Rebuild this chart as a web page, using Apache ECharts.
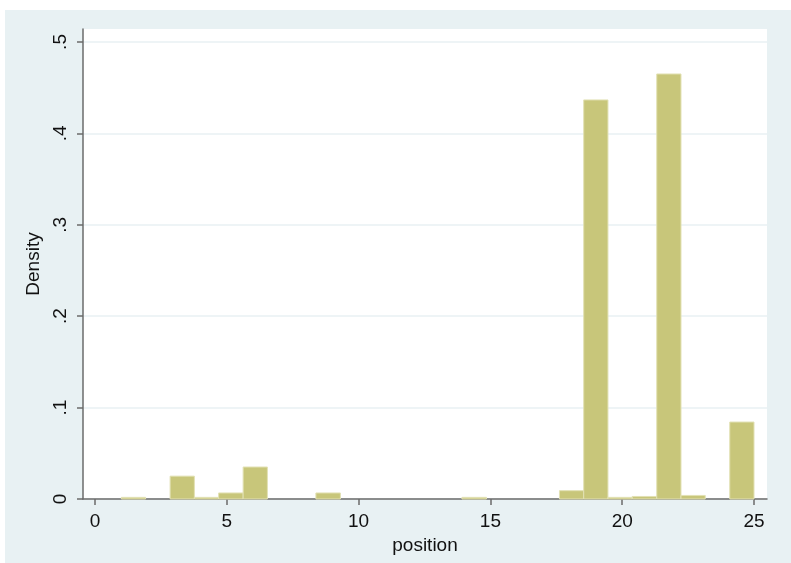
<!DOCTYPE html>
<html>
<head>
<meta charset="utf-8">
<script src="https://cdn.jsdelivr.net/npm/echarts@6/dist/echarts.min.js"></script>
<style>
html,body{margin:0;padding:0;background:#fff;}
#chart{width:791px;height:563px;}
</style>
</head>
<body>
<div id="chart"></div>
<script>
// Histogram bins (position)
const binLeft  = [1.00, 2.85, 3.77, 4.69, 5.62, 8.38, 13.92, 17.62, 18.54, 19.46, 20.38, 21.31, 22.23, 24.08];
const binRight = [1.92, 3.77, 4.69, 5.62, 6.54, 9.31, 14.85, 18.54, 19.46, 20.38, 21.31, 22.23, 23.15, 25.00];
const density  = [0.0018, 0.0250, 0.0018, 0.0066, 0.0350, 0.0066, 0.0018, 0.0091, 0.4366, 0.0018, 0.0028, 0.4650, 0.0039, 0.0842];
const xTicks = [0, 5, 10, 15, 20, 25];
const yTicks = [0, 0.1, 0.2, 0.3, 0.4, 0.5];
const yTickLabels = ['0', '.1', '.2', '.3', '.4', '.5'];

const data = binLeft.map((l, i) => [l, binRight[i], density[i]]);

const chart = echarts.init(document.getElementById('chart'));
const font = 'Liberation Sans, Arial, Helvetica, sans-serif';
chart.setOption({
  backgroundColor: '#ffffff',
  animation: false,
  graphic: [{
    type: 'rect', left: 5, top: 10, z: -10,
    shape: { width: 786, height: 553 },
    style: { fill: '#e8f1f3' }
  }],
  grid: {
    left: 83, top: 29, width: 684, height: 470,
    show: true, backgroundColor: '#ffffff', borderWidth: 0, z: 0
  },
  xAxis: {
    type: 'value', min: -0.455, max: 25.493,
    name: 'position', nameLocation: 'middle', nameGap: 33,
    nameTextStyle: { fontFamily: font, fontSize: 19, color: '#111' },
    axisLine: { show: true, onZero: false, lineStyle: { color: '#6b6b6b', width: 1.5 } },
    axisTick: { show: true, customValues: xTicks, length: 6, lineStyle: { color: '#6b6b6b', width: 1.5 } },
    axisLabel: { customValues: xTicks, margin: 13, fontFamily: font, fontSize: 19, color: '#111' },
    splitLine: { show: false }
  },
  yAxis: {
    type: 'value', min: 0, max: 0.5142, interval: 0.1,
    name: 'Density', nameLocation: 'middle', nameGap: 37, nameRotate: 90,
    nameTextStyle: { fontFamily: font, fontSize: 19, color: '#111' },
    axisLine: { show: true, onZero: false, lineStyle: { color: '#6b6b6b', width: 1.5 } },
    axisTick: { show: true, customValues: yTicks, length: 6, lineStyle: { color: '#6b6b6b', width: 1.5 } },
    axisLabel: {
      customValues: yTicks, rotate: 90, margin: 13, fontFamily: font, fontSize: 19, color: '#111',
      formatter: function (v) {
        const i = yTicks.findIndex(t => Math.abs(t - v) < 1e-9);
        return i >= 0 ? yTickLabels[i] : '';
      }
    },
    splitLine: { show: true, lineStyle: { color: '#e8f1f3', width: 1.5 } }
  },
  series: [{
    type: 'custom',
    data: data,
    encode: { x: [0, 1], y: 2 },
    renderItem: function (params, api) {
      const p0 = api.coord([api.value(0), api.value(2)]);
      const p1 = api.coord([api.value(1), 0]);
      return {
        type: 'rect',
        shape: { x: p0[0], y: p0[1], width: p1[0] - p0[0], height: p1[1] - p0[1] },
        style: { fill: '#c8c67a', stroke: '#e2e1b4', lineWidth: 1 }
      };
    }
  }]
});
</script>
</body>
</html>
